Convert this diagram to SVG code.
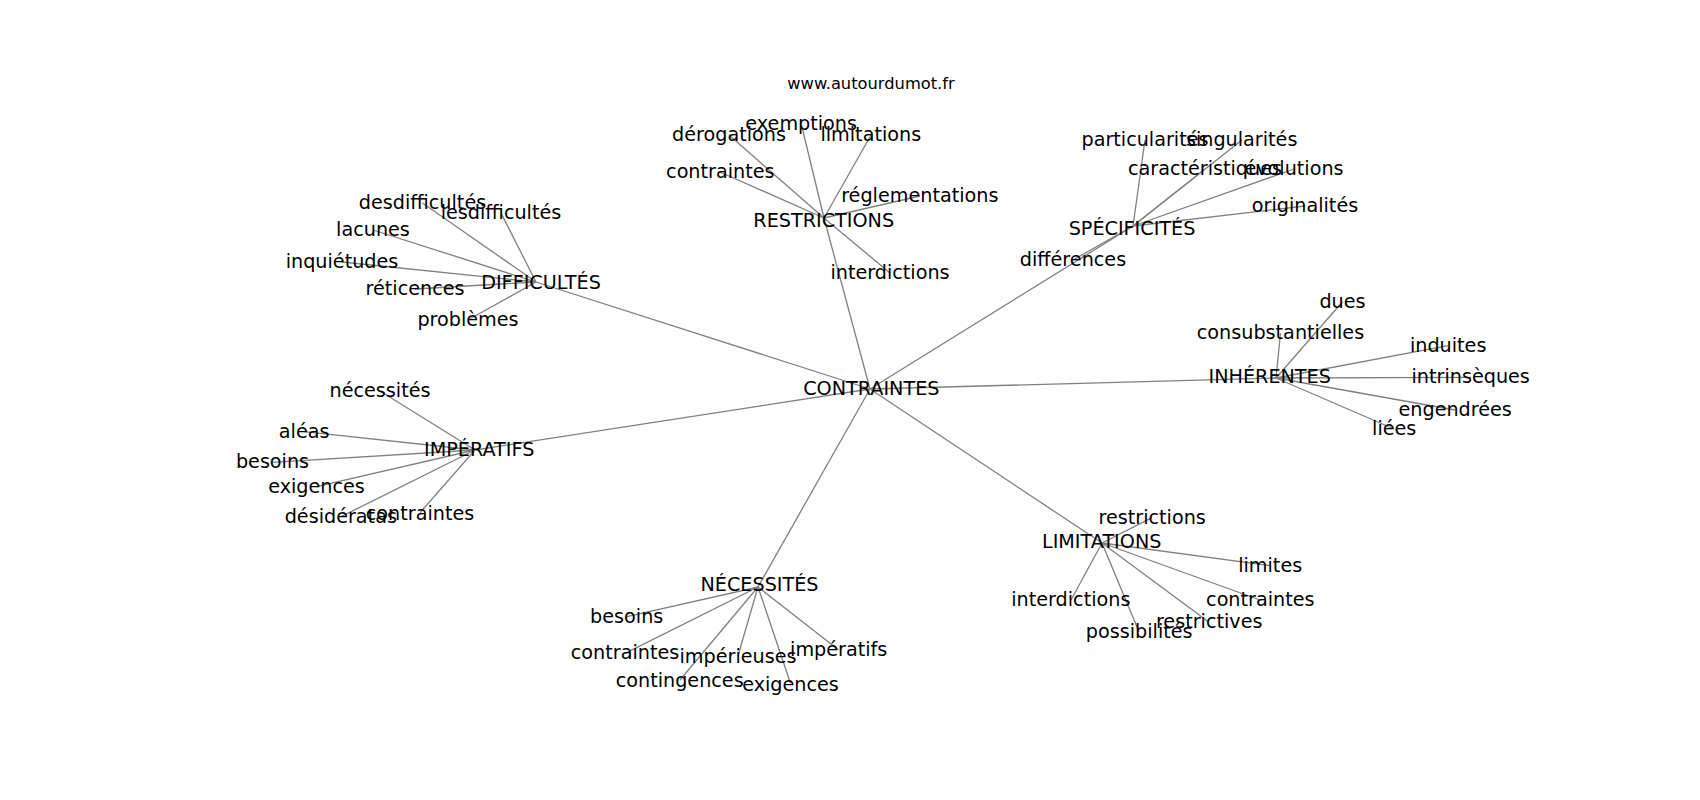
<svg xmlns="http://www.w3.org/2000/svg" width="1700" height="800" viewBox="0 0 1700 800">
<style>
.e line{stroke:#808080;stroke-width:1.3;fill:none}
text{font-family:"DejaVu Sans","Liberation Sans",sans-serif;font-size:19.2px;fill:#000;text-anchor:middle}
.title{font-size:16.3px}
</style>
<rect width="1700" height="800" fill="#fff"/>
<text class="title" x="871" y="88.5">www.autourdumot.fr</text>
<g id="connectors" class="e">
<line x1="870" y1="389" x2="536" y2="282"/>
<line x1="870" y1="389" x2="824" y2="218"/>
<line x1="870" y1="389" x2="1133" y2="226"/>
<line x1="870" y1="389" x2="1276" y2="378"/>
<line x1="870" y1="389" x2="475" y2="450"/>
<line x1="870" y1="389" x2="758" y2="587"/>
<line x1="870" y1="389" x2="1102" y2="543"/>
<line x1="536" y1="282" x2="422.5" y2="203"/>
<line x1="536" y1="282" x2="501" y2="213"/>
<line x1="536" y1="282" x2="373" y2="230"/>
<line x1="536" y1="282" x2="342" y2="262"/>
<line x1="536" y1="282" x2="415" y2="289"/>
<line x1="536" y1="282" x2="468" y2="320"/>
<line x1="824" y1="218" x2="801" y2="123"/>
<line x1="824" y1="218" x2="729" y2="135"/>
<line x1="824" y1="218" x2="871" y2="135"/>
<line x1="824" y1="218" x2="720" y2="172"/>
<line x1="824" y1="218" x2="920" y2="196"/>
<line x1="824" y1="218" x2="890" y2="273"/>
<line x1="1133" y1="226" x2="1145" y2="140"/>
<line x1="1133" y1="226" x2="1242" y2="140"/>
<line x1="1133" y1="226" x2="1205" y2="169"/>
<line x1="1133" y1="226" x2="1294" y2="169"/>
<line x1="1133" y1="226" x2="1305" y2="206"/>
<line x1="1133" y1="226" x2="1073" y2="260"/>
<line x1="1276" y1="378" x2="1342.5" y2="301.7"/>
<line x1="1276" y1="378" x2="1280.5" y2="333.3"/>
<line x1="1276" y1="378" x2="1448" y2="345.7"/>
<line x1="1276" y1="378" x2="1471" y2="377.3"/>
<line x1="1276" y1="378" x2="1455" y2="410"/>
<line x1="1276" y1="378" x2="1394" y2="429"/>
<line x1="475" y1="450" x2="380" y2="391"/>
<line x1="475" y1="450" x2="304" y2="431.7"/>
<line x1="475" y1="450" x2="272.5" y2="462.3"/>
<line x1="475" y1="450" x2="316.5" y2="486.7"/>
<line x1="475" y1="450" x2="341" y2="516.7"/>
<line x1="475" y1="450" x2="420" y2="512.7"/>
<line x1="758" y1="587" x2="627" y2="616.7"/>
<line x1="758" y1="587" x2="625" y2="653.3"/>
<line x1="758" y1="587" x2="738" y2="655.7"/>
<line x1="758" y1="587" x2="838.7" y2="650"/>
<line x1="758" y1="587" x2="680" y2="680"/>
<line x1="758" y1="587" x2="790.5" y2="683.3"/>
<line x1="1102" y1="543" x2="1152" y2="517.7"/>
<line x1="1102" y1="543" x2="1270" y2="565.7"/>
<line x1="1102" y1="543" x2="1071" y2="600"/>
<line x1="1102" y1="543" x2="1260" y2="600"/>
<line x1="1102" y1="543" x2="1209" y2="622.3"/>
<line x1="1102" y1="543" x2="1139" y2="631.7"/>
</g>
<g id="nodes" transform="translate(0,1.2)">
<g id="n-contraintes"><text x="871.3" y="393.5">CONTRAINTES</text></g>
<g id="n-difficultes"><text x="541" y="288.3">DIFFICULTÉS</text></g>
<g id="n-desdifficultes"><text x="422.5" y="208.3">desdifficultés</text></g>
<g id="n-lesdifficultes"><text x="501" y="217.7">lesdifficultés</text></g>
<g id="n-lacunes"><text x="373" y="235">lacunes</text></g>
<g id="n-inquietudes"><text x="342" y="267.3">inquiétudes</text></g>
<g id="n-reticences"><text x="415" y="294">réticences</text></g>
<g id="n-problemes"><text x="468" y="325">problèmes</text></g>
<g id="n-restrictions"><text x="823.7" y="225.7">RESTRICTIONS</text></g>
<g id="n-exemptions"><text x="801.2" y="128.8">exemptions</text></g>
<g id="n-derogations"><text x="729" y="140">dérogations</text></g>
<g id="n-limitations-r"><text x="870.8" y="140">limitations</text></g>
<g id="n-contraintes-r"><text x="720.3" y="176.7">contraintes</text></g>
<g id="n-reglementations"><text x="919.8" y="200.7">réglementations</text></g>
<g id="n-interdictions-r"><text x="890" y="278.3">interdictions</text></g>
<g id="n-specificites"><text x="1132" y="234">SPÉCIFICITÉS</text></g>
<g id="n-particularites"><text x="1145" y="145">particularités</text></g>
<g id="n-singularites"><text x="1241.7" y="145">singularités</text></g>
<g id="n-caracteristiques"><text x="1205" y="174">caractéristiques</text></g>
<g id="n-evolutions"><text x="1294" y="174">évolutions</text></g>
<g id="n-originalites"><text x="1305" y="211">originalités</text></g>
<g id="n-differences"><text x="1073" y="265">différences</text></g>
<g id="n-inherentes"><text x="1269.7" y="382.3">INHÉRENTES</text></g>
<g id="n-dues"><text x="1342.5" y="306.7">dues</text></g>
<g id="n-consubstantielles"><text x="1280.5" y="338.3">consubstantielles</text></g>
<g id="n-induites"><text x="1448.2" y="350.7">induites</text></g>
<g id="n-intrinseques"><text x="1470.7" y="382.3">intrinsèques</text></g>
<g id="n-engendrees"><text x="1455.2" y="415">engendrées</text></g>
<g id="n-liees"><text x="1394.2" y="434">liées</text></g>
<g id="n-imperatifs"><text x="479.2" y="455">IMPÉRATIFS</text></g>
<g id="n-necessites-i"><text x="380" y="396">nécessités</text></g>
<g id="n-aleas"><text x="304.2" y="436.7">aléas</text></g>
<g id="n-besoins-i"><text x="272.5" y="467.3">besoins</text></g>
<g id="n-exigences-i"><text x="316.5" y="491.7">exigences</text></g>
<g id="n-desideratas"><text x="340.8" y="521.7">désidératas</text></g>
<g id="n-contraintes-i"><text x="420" y="518.5">contraintes</text></g>
<g id="n-necessites"><text x="759.5" y="590">NÉCESSITÉS</text></g>
<g id="n-besoins-n"><text x="626.7" y="621.7">besoins</text></g>
<g id="n-contraintes-n"><text x="625" y="658.3">contraintes</text></g>
<g id="n-imperieuses"><text x="738" y="661.5">impérieuses</text></g>
<g id="n-imperatifs-n"><text x="838.7" y="655">impératifs</text></g>
<g id="n-contingences"><text x="679.7" y="685.5">contingences</text></g>
<g id="n-exigences-n"><text x="790.5" y="689.5">exigences</text></g>
<g id="n-limitations"><text x="1101.7" y="546.7">LIMITATIONS</text></g>
<g id="n-restrictions-l"><text x="1152.2" y="522.7">restrictions</text></g>
<g id="n-limites"><text x="1270.2" y="570.7">limites</text></g>
<g id="n-interdictions-l"><text x="1070.8" y="605">interdictions</text></g>
<g id="n-contraintes-l"><text x="1260.3" y="605">contraintes</text></g>
<g id="n-restrictives"><text x="1209.2" y="627.3">restrictives</text></g>
<g id="n-possibilites"><text x="1139.2" y="636.7">possibilités</text></g>
</g>
</svg>
